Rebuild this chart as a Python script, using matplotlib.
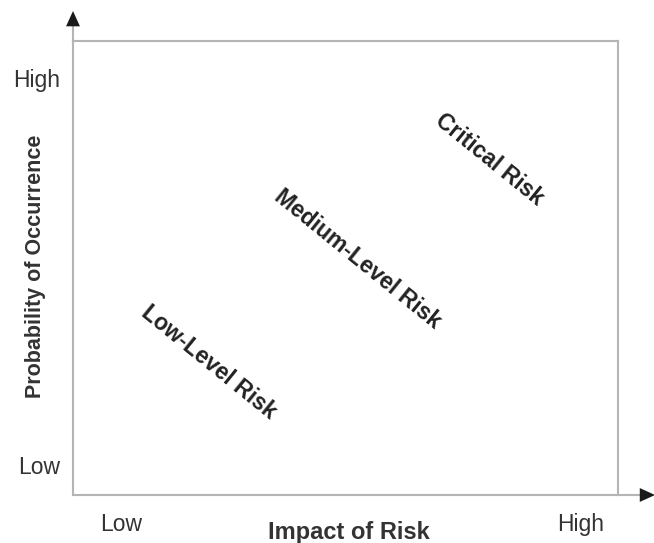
import matplotlib
matplotlib.use("Agg")
import matplotlib.pyplot as plt

plt.rcParams["font.family"] = ["Liberation Sans", "DejaVu Sans"]

# ticks / categories
x_ticks = [0.088, 0.932]
x_labels = ["Low", "High"]
y_ticks = [0.066, 0.918]
y_labels = ["Low", "High"]

# zone labels placed in the impact / probability plane
zones = ["Low-Level Risk", "Medium-Level Risk", "Critical Risk"]
zone_x = [0.250, 0.522, 0.764]
zone_y = [0.293, 0.520, 0.740]

GRAY = "#b5b5b5"
TXT = "#333333"

fig = plt.figure(figsize=(6.54, 5.43), dpi=100)
ax = fig.add_axes([73/654, 1 - 495/543, 545/654, 454/543])
ax.set_xlim(0, 1); ax.set_ylim(0, 1)
for s in ax.spines.values():
    s.set_color(GRAY); s.set_linewidth(1.5)

ax.set_xticks(x_ticks, x_labels, fontsize=16.5, color=TXT)
ax.set_yticks(y_ticks, y_labels, fontsize=16.5, color=TXT)
ax.tick_params(length=0)
ax.tick_params(axis="x", pad=13)
ax.tick_params(axis="y", pad=9)
ax.set_xlabel("Impact of Risk", fontsize=17, fontweight="bold", color=TXT)
ax.set_ylabel("Probability of Occurrence", fontsize=15.5, fontweight="bold", color=TXT)
ax.xaxis.set_label_coords(0.507, -0.057)
ax.yaxis.set_label_coords(-0.05, 0.503)

# axis extensions + arrow heads
ax.plot([0, 0], [1, 1.035], color=GRAY, lw=1.5, clip_on=False)
ax.plot([1, 1.04], [0, 0], color=GRAY, lw=1.5, clip_on=False)
ax.annotate("", xy=(0, 1.066), xytext=(0, 1.03), xycoords="axes fraction",
            arrowprops=dict(arrowstyle="-|>,head_length=1.1,head_width=0.5",
                            color="#1a1a1a", lw=0, shrinkA=0, shrinkB=0))
ax.annotate("", xy=(1.068, 0), xytext=(1.035, 0), xycoords="axes fraction",
            arrowprops=dict(arrowstyle="-|>,head_length=1.1,head_width=0.5",
                            color="#1a1a1a", lw=0, shrinkA=0, shrinkB=0))

for name, zx, zy in zip(zones, zone_x, zone_y):
    ax.text(zx, zy, name, fontsize=16.5, fontweight="bold", color="#222222",
            rotation=-39, rotation_mode="anchor", ha="center", va="center")

fig.savefig("out.png", dpi=100)
